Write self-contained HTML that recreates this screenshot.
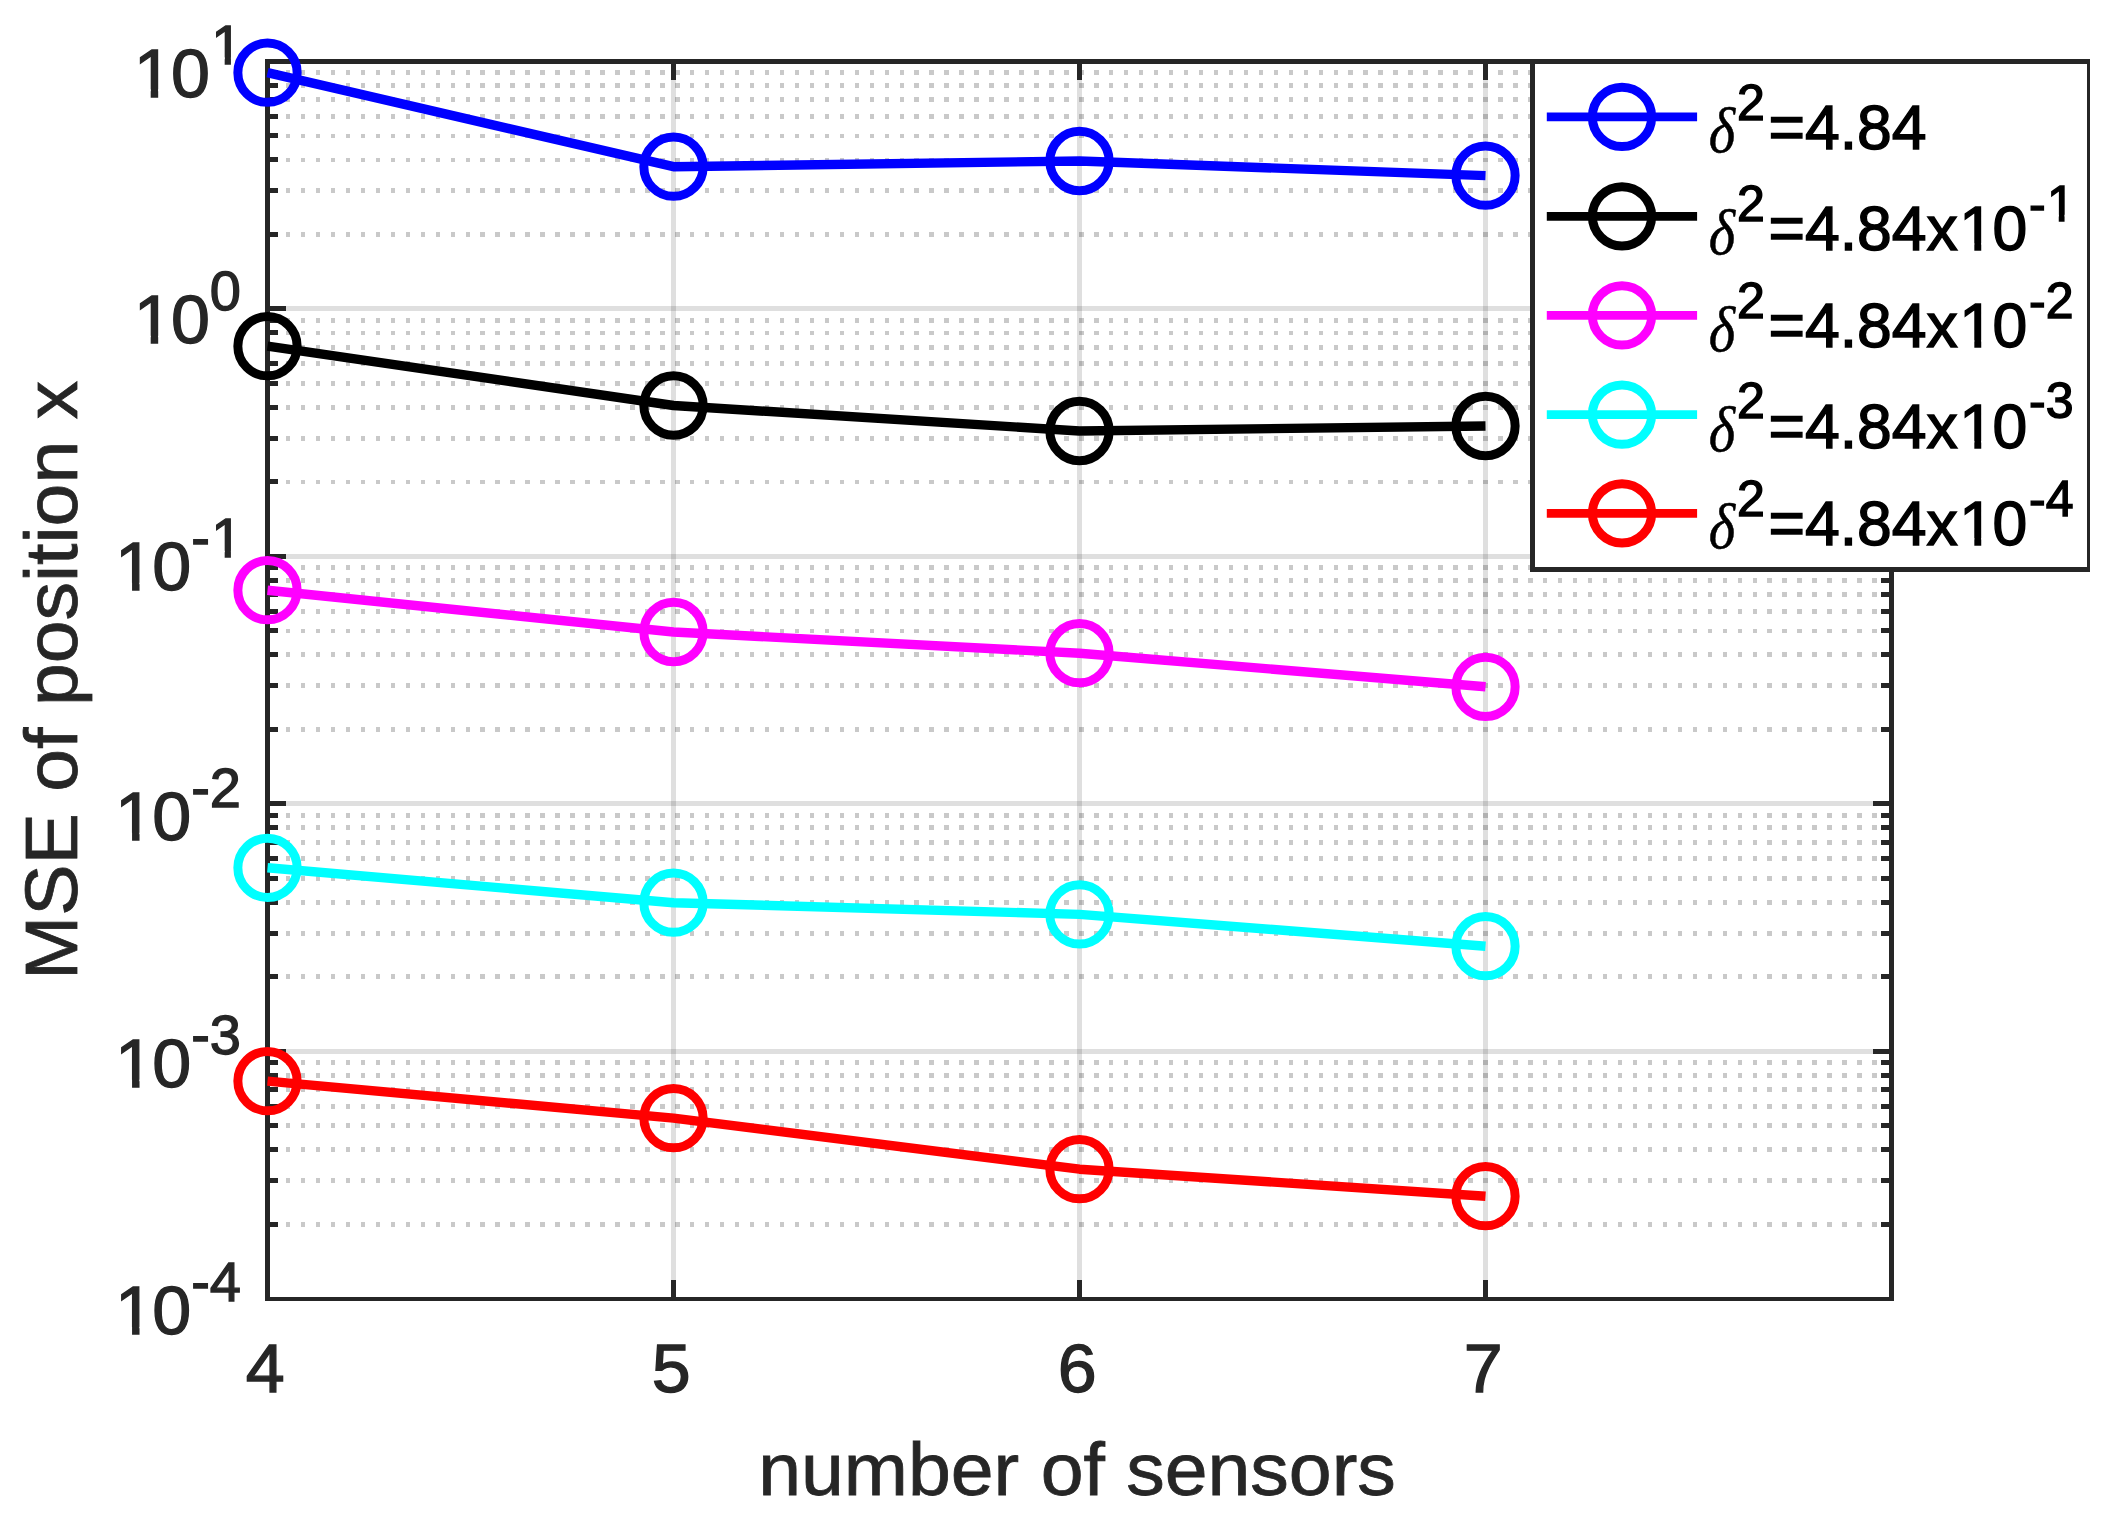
<!DOCTYPE html>
<html lang="en"><head><meta charset="utf-8"><title>MSE of position x vs number of sensors</title>
<style>html,body{margin:0;padding:0;background:#fff;}body{width:2112px;height:1515px;overflow:hidden;}svg{display:block;}text{font-family:"Liberation Sans",sans-serif;}.tk{font-size:70px;fill:#262626;stroke:#262626;stroke-width:1.3px;}.sp{font-size:56px;}.lb{font-size:77px;fill:#262626;stroke:#262626;stroke-width:0.8px;}.lg{font-size:62.5px;fill:#000;stroke:#000;stroke-width:1.4px;}.ls{font-size:50px;fill:#000;stroke:#000;stroke-width:1.4px;}.dl{font-family:"Liberation Serif","DejaVu Serif",serif;font-style:italic;font-size:63px;fill:#000;stroke:#000;stroke-width:0.5px;}</style></head><body>
<svg width="2112" height="1515" viewBox="0 0 2112 1515">
<rect x="0" y="0" width="2112" height="1515" fill="#ffffff"/>
<g shape-rendering="crispEdges" fill="none" stroke="#262626">
<line x1="673.50" y1="61.50" x2="673.50" y2="1298.80" stroke-opacity="0.15" stroke-width="5.0"/>
<line x1="1079.50" y1="61.50" x2="1079.50" y2="1298.80" stroke-opacity="0.15" stroke-width="5.0"/>
<line x1="1485.50" y1="61.50" x2="1485.50" y2="1298.80" stroke-opacity="0.15" stroke-width="5.0"/>
<line x1="267.50" y1="308.96" x2="1891.50" y2="308.96" stroke-opacity="0.15" stroke-width="5.0"/>
<line x1="267.50" y1="556.42" x2="1891.50" y2="556.42" stroke-opacity="0.15" stroke-width="5.0"/>
<line x1="267.50" y1="803.88" x2="1891.50" y2="803.88" stroke-opacity="0.15" stroke-width="5.0"/>
<line x1="267.50" y1="1051.34" x2="1891.50" y2="1051.34" stroke-opacity="0.15" stroke-width="5.0"/>
<line x1="270.985" y1="234.47" x2="1891.50" y2="234.47" stroke-opacity="0.25" stroke-width="4.8" stroke-dasharray="4.47 10.495"/>
<line x1="270.985" y1="190.89" x2="1891.50" y2="190.89" stroke-opacity="0.25" stroke-width="4.8" stroke-dasharray="4.47 10.495"/>
<line x1="270.985" y1="159.97" x2="1891.50" y2="159.97" stroke-opacity="0.25" stroke-width="4.8" stroke-dasharray="4.47 10.495"/>
<line x1="270.985" y1="135.99" x2="1891.50" y2="135.99" stroke-opacity="0.25" stroke-width="4.8" stroke-dasharray="4.47 10.495"/>
<line x1="270.985" y1="116.40" x2="1891.50" y2="116.40" stroke-opacity="0.25" stroke-width="4.8" stroke-dasharray="4.47 10.495"/>
<line x1="270.985" y1="99.83" x2="1891.50" y2="99.83" stroke-opacity="0.25" stroke-width="4.8" stroke-dasharray="4.47 10.495"/>
<line x1="270.985" y1="85.48" x2="1891.50" y2="85.48" stroke-opacity="0.25" stroke-width="4.8" stroke-dasharray="4.47 10.495"/>
<line x1="270.985" y1="72.82" x2="1891.50" y2="72.82" stroke-opacity="0.25" stroke-width="4.8" stroke-dasharray="4.47 10.495"/>
<line x1="270.985" y1="481.93" x2="1891.50" y2="481.93" stroke-opacity="0.25" stroke-width="4.8" stroke-dasharray="4.47 10.495"/>
<line x1="270.985" y1="438.35" x2="1891.50" y2="438.35" stroke-opacity="0.25" stroke-width="4.8" stroke-dasharray="4.47 10.495"/>
<line x1="270.985" y1="407.43" x2="1891.50" y2="407.43" stroke-opacity="0.25" stroke-width="4.8" stroke-dasharray="4.47 10.495"/>
<line x1="270.985" y1="383.45" x2="1891.50" y2="383.45" stroke-opacity="0.25" stroke-width="4.8" stroke-dasharray="4.47 10.495"/>
<line x1="270.985" y1="363.86" x2="1891.50" y2="363.86" stroke-opacity="0.25" stroke-width="4.8" stroke-dasharray="4.47 10.495"/>
<line x1="270.985" y1="347.29" x2="1891.50" y2="347.29" stroke-opacity="0.25" stroke-width="4.8" stroke-dasharray="4.47 10.495"/>
<line x1="270.985" y1="332.94" x2="1891.50" y2="332.94" stroke-opacity="0.25" stroke-width="4.8" stroke-dasharray="4.47 10.495"/>
<line x1="270.985" y1="320.28" x2="1891.50" y2="320.28" stroke-opacity="0.25" stroke-width="4.8" stroke-dasharray="4.47 10.495"/>
<line x1="270.985" y1="729.39" x2="1891.50" y2="729.39" stroke-opacity="0.25" stroke-width="4.8" stroke-dasharray="4.47 10.495"/>
<line x1="270.985" y1="685.81" x2="1891.50" y2="685.81" stroke-opacity="0.25" stroke-width="4.8" stroke-dasharray="4.47 10.495"/>
<line x1="270.985" y1="654.89" x2="1891.50" y2="654.89" stroke-opacity="0.25" stroke-width="4.8" stroke-dasharray="4.47 10.495"/>
<line x1="270.985" y1="630.91" x2="1891.50" y2="630.91" stroke-opacity="0.25" stroke-width="4.8" stroke-dasharray="4.47 10.495"/>
<line x1="270.985" y1="611.32" x2="1891.50" y2="611.32" stroke-opacity="0.25" stroke-width="4.8" stroke-dasharray="4.47 10.495"/>
<line x1="270.985" y1="594.75" x2="1891.50" y2="594.75" stroke-opacity="0.25" stroke-width="4.8" stroke-dasharray="4.47 10.495"/>
<line x1="270.985" y1="580.40" x2="1891.50" y2="580.40" stroke-opacity="0.25" stroke-width="4.8" stroke-dasharray="4.47 10.495"/>
<line x1="270.985" y1="567.74" x2="1891.50" y2="567.74" stroke-opacity="0.25" stroke-width="4.8" stroke-dasharray="4.47 10.495"/>
<line x1="270.985" y1="976.85" x2="1891.50" y2="976.85" stroke-opacity="0.25" stroke-width="4.8" stroke-dasharray="4.47 10.495"/>
<line x1="270.985" y1="933.27" x2="1891.50" y2="933.27" stroke-opacity="0.25" stroke-width="4.8" stroke-dasharray="4.47 10.495"/>
<line x1="270.985" y1="902.35" x2="1891.50" y2="902.35" stroke-opacity="0.25" stroke-width="4.8" stroke-dasharray="4.47 10.495"/>
<line x1="270.985" y1="878.37" x2="1891.50" y2="878.37" stroke-opacity="0.25" stroke-width="4.8" stroke-dasharray="4.47 10.495"/>
<line x1="270.985" y1="858.78" x2="1891.50" y2="858.78" stroke-opacity="0.25" stroke-width="4.8" stroke-dasharray="4.47 10.495"/>
<line x1="270.985" y1="842.21" x2="1891.50" y2="842.21" stroke-opacity="0.25" stroke-width="4.8" stroke-dasharray="4.47 10.495"/>
<line x1="270.985" y1="827.86" x2="1891.50" y2="827.86" stroke-opacity="0.25" stroke-width="4.8" stroke-dasharray="4.47 10.495"/>
<line x1="270.985" y1="815.20" x2="1891.50" y2="815.20" stroke-opacity="0.25" stroke-width="4.8" stroke-dasharray="4.47 10.495"/>
<line x1="270.985" y1="1224.31" x2="1891.50" y2="1224.31" stroke-opacity="0.25" stroke-width="4.8" stroke-dasharray="4.47 10.495"/>
<line x1="270.985" y1="1180.73" x2="1891.50" y2="1180.73" stroke-opacity="0.25" stroke-width="4.8" stroke-dasharray="4.47 10.495"/>
<line x1="270.985" y1="1149.81" x2="1891.50" y2="1149.81" stroke-opacity="0.25" stroke-width="4.8" stroke-dasharray="4.47 10.495"/>
<line x1="270.985" y1="1125.83" x2="1891.50" y2="1125.83" stroke-opacity="0.25" stroke-width="4.8" stroke-dasharray="4.47 10.495"/>
<line x1="270.985" y1="1106.24" x2="1891.50" y2="1106.24" stroke-opacity="0.25" stroke-width="4.8" stroke-dasharray="4.47 10.495"/>
<line x1="270.985" y1="1089.67" x2="1891.50" y2="1089.67" stroke-opacity="0.25" stroke-width="4.8" stroke-dasharray="4.47 10.495"/>
<line x1="270.985" y1="1075.32" x2="1891.50" y2="1075.32" stroke-opacity="0.25" stroke-width="4.8" stroke-dasharray="4.47 10.495"/>
<line x1="270.985" y1="1062.66" x2="1891.50" y2="1062.66" stroke-opacity="0.25" stroke-width="4.8" stroke-dasharray="4.47 10.495"/>
</g>
<g shape-rendering="crispEdges" stroke="#262626" stroke-width="5.0" fill="none">
<g stroke="none" fill="#262626"><rect x="265" y="59" width="1629" height="5"/><rect x="265" y="1297" width="1629" height="4"/><rect x="265" y="59" width="5" height="1242"/><rect x="1889" y="59" width="5" height="1242"/></g>
<line x1="673.50" y1="61.50" x2="673.50" y2="80.00"/>
<line x1="673.50" y1="1298.80" x2="673.50" y2="1280.30"/>
<line x1="1079.50" y1="61.50" x2="1079.50" y2="80.00"/>
<line x1="1079.50" y1="1298.80" x2="1079.50" y2="1280.30"/>
<line x1="1485.50" y1="61.50" x2="1485.50" y2="80.00"/>
<line x1="1485.50" y1="1298.80" x2="1485.50" y2="1280.30"/>
<line x1="267.50" y1="308.96" x2="286.00" y2="308.96"/>
<line x1="1891.50" y1="308.96" x2="1873.00" y2="308.96"/>
<line x1="267.50" y1="556.42" x2="286.00" y2="556.42"/>
<line x1="1891.50" y1="556.42" x2="1873.00" y2="556.42"/>
<line x1="267.50" y1="803.88" x2="286.00" y2="803.88"/>
<line x1="1891.50" y1="803.88" x2="1873.00" y2="803.88"/>
<line x1="267.50" y1="1051.34" x2="286.00" y2="1051.34"/>
<line x1="1891.50" y1="1051.34" x2="1873.00" y2="1051.34"/>
<line x1="267.50" y1="234.47" x2="278.00" y2="234.47"/>
<line x1="1891.50" y1="234.47" x2="1881.00" y2="234.47"/>
<line x1="267.50" y1="190.89" x2="278.00" y2="190.89"/>
<line x1="1891.50" y1="190.89" x2="1881.00" y2="190.89"/>
<line x1="267.50" y1="159.97" x2="278.00" y2="159.97"/>
<line x1="1891.50" y1="159.97" x2="1881.00" y2="159.97"/>
<line x1="267.50" y1="135.99" x2="278.00" y2="135.99"/>
<line x1="1891.50" y1="135.99" x2="1881.00" y2="135.99"/>
<line x1="267.50" y1="116.40" x2="278.00" y2="116.40"/>
<line x1="1891.50" y1="116.40" x2="1881.00" y2="116.40"/>
<line x1="267.50" y1="99.83" x2="278.00" y2="99.83"/>
<line x1="1891.50" y1="99.83" x2="1881.00" y2="99.83"/>
<line x1="267.50" y1="85.48" x2="278.00" y2="85.48"/>
<line x1="1891.50" y1="85.48" x2="1881.00" y2="85.48"/>
<line x1="267.50" y1="72.82" x2="278.00" y2="72.82"/>
<line x1="1891.50" y1="72.82" x2="1881.00" y2="72.82"/>
<line x1="267.50" y1="481.93" x2="278.00" y2="481.93"/>
<line x1="1891.50" y1="481.93" x2="1881.00" y2="481.93"/>
<line x1="267.50" y1="438.35" x2="278.00" y2="438.35"/>
<line x1="1891.50" y1="438.35" x2="1881.00" y2="438.35"/>
<line x1="267.50" y1="407.43" x2="278.00" y2="407.43"/>
<line x1="1891.50" y1="407.43" x2="1881.00" y2="407.43"/>
<line x1="267.50" y1="383.45" x2="278.00" y2="383.45"/>
<line x1="1891.50" y1="383.45" x2="1881.00" y2="383.45"/>
<line x1="267.50" y1="363.86" x2="278.00" y2="363.86"/>
<line x1="1891.50" y1="363.86" x2="1881.00" y2="363.86"/>
<line x1="267.50" y1="347.29" x2="278.00" y2="347.29"/>
<line x1="1891.50" y1="347.29" x2="1881.00" y2="347.29"/>
<line x1="267.50" y1="332.94" x2="278.00" y2="332.94"/>
<line x1="1891.50" y1="332.94" x2="1881.00" y2="332.94"/>
<line x1="267.50" y1="320.28" x2="278.00" y2="320.28"/>
<line x1="1891.50" y1="320.28" x2="1881.00" y2="320.28"/>
<line x1="267.50" y1="729.39" x2="278.00" y2="729.39"/>
<line x1="1891.50" y1="729.39" x2="1881.00" y2="729.39"/>
<line x1="267.50" y1="685.81" x2="278.00" y2="685.81"/>
<line x1="1891.50" y1="685.81" x2="1881.00" y2="685.81"/>
<line x1="267.50" y1="654.89" x2="278.00" y2="654.89"/>
<line x1="1891.50" y1="654.89" x2="1881.00" y2="654.89"/>
<line x1="267.50" y1="630.91" x2="278.00" y2="630.91"/>
<line x1="1891.50" y1="630.91" x2="1881.00" y2="630.91"/>
<line x1="267.50" y1="611.32" x2="278.00" y2="611.32"/>
<line x1="1891.50" y1="611.32" x2="1881.00" y2="611.32"/>
<line x1="267.50" y1="594.75" x2="278.00" y2="594.75"/>
<line x1="1891.50" y1="594.75" x2="1881.00" y2="594.75"/>
<line x1="267.50" y1="580.40" x2="278.00" y2="580.40"/>
<line x1="1891.50" y1="580.40" x2="1881.00" y2="580.40"/>
<line x1="267.50" y1="567.74" x2="278.00" y2="567.74"/>
<line x1="1891.50" y1="567.74" x2="1881.00" y2="567.74"/>
<line x1="267.50" y1="976.85" x2="278.00" y2="976.85"/>
<line x1="1891.50" y1="976.85" x2="1881.00" y2="976.85"/>
<line x1="267.50" y1="933.27" x2="278.00" y2="933.27"/>
<line x1="1891.50" y1="933.27" x2="1881.00" y2="933.27"/>
<line x1="267.50" y1="902.35" x2="278.00" y2="902.35"/>
<line x1="1891.50" y1="902.35" x2="1881.00" y2="902.35"/>
<line x1="267.50" y1="878.37" x2="278.00" y2="878.37"/>
<line x1="1891.50" y1="878.37" x2="1881.00" y2="878.37"/>
<line x1="267.50" y1="858.78" x2="278.00" y2="858.78"/>
<line x1="1891.50" y1="858.78" x2="1881.00" y2="858.78"/>
<line x1="267.50" y1="842.21" x2="278.00" y2="842.21"/>
<line x1="1891.50" y1="842.21" x2="1881.00" y2="842.21"/>
<line x1="267.50" y1="827.86" x2="278.00" y2="827.86"/>
<line x1="1891.50" y1="827.86" x2="1881.00" y2="827.86"/>
<line x1="267.50" y1="815.20" x2="278.00" y2="815.20"/>
<line x1="1891.50" y1="815.20" x2="1881.00" y2="815.20"/>
<line x1="267.50" y1="1224.31" x2="278.00" y2="1224.31"/>
<line x1="1891.50" y1="1224.31" x2="1881.00" y2="1224.31"/>
<line x1="267.50" y1="1180.73" x2="278.00" y2="1180.73"/>
<line x1="1891.50" y1="1180.73" x2="1881.00" y2="1180.73"/>
<line x1="267.50" y1="1149.81" x2="278.00" y2="1149.81"/>
<line x1="1891.50" y1="1149.81" x2="1881.00" y2="1149.81"/>
<line x1="267.50" y1="1125.83" x2="278.00" y2="1125.83"/>
<line x1="1891.50" y1="1125.83" x2="1881.00" y2="1125.83"/>
<line x1="267.50" y1="1106.24" x2="278.00" y2="1106.24"/>
<line x1="1891.50" y1="1106.24" x2="1881.00" y2="1106.24"/>
<line x1="267.50" y1="1089.67" x2="278.00" y2="1089.67"/>
<line x1="1891.50" y1="1089.67" x2="1881.00" y2="1089.67"/>
<line x1="267.50" y1="1075.32" x2="278.00" y2="1075.32"/>
<line x1="1891.50" y1="1075.32" x2="1881.00" y2="1075.32"/>
<line x1="267.50" y1="1062.66" x2="278.00" y2="1062.66"/>
<line x1="1891.50" y1="1062.66" x2="1881.00" y2="1062.66"/>
</g>
<text class="tk" transform="translate(0,96.75) scale(1,0.975)"><tspan x="133.74" y="0">1</tspan><tspan x="170.94">0</tspan><tspan class="sp" x="211.24" dy="-33.85">1</tspan></text>
<text class="tk" transform="translate(0,343.25) scale(1,0.975)"><tspan x="133.74" y="0">1</tspan><tspan x="170.94">0</tspan><tspan class="sp" x="209.86" dy="-33.85">0</tspan></text>
<text class="tk" transform="translate(0,590.20) scale(1,0.975)"><tspan x="115.09" y="0">1</tspan><tspan x="152.30">0</tspan><tspan class="sp" x="191.22" dy="-33.85">-</tspan><tspan class="sp" x="211.24">1</tspan></text>
<text class="tk" transform="translate(0,840.20) scale(1,0.975)"><tspan x="115.09" y="0">1</tspan><tspan x="152.30">0</tspan><tspan class="sp" x="191.22" dy="-33.85">-2</tspan></text>
<text class="tk" transform="translate(0,1087.10) scale(1,0.975)"><tspan x="115.09" y="0">1</tspan><tspan x="152.30">0</tspan><tspan class="sp" x="191.22" dy="-33.85">-3</tspan></text>
<text class="tk" transform="translate(0,1334.35) scale(1,0.975)"><tspan x="115.09" y="0">1</tspan><tspan x="152.30">0</tspan><tspan class="sp" x="191.22" dy="-33.85">-4</tspan></text>
<g fill="#ffffff"><rect x="137.42" y="89.27" width="13.27" height="9.13"/><rect x="158.18" y="89.27" width="12.72" height="9.13"/><rect x="213.85" y="57.32" width="10.82" height="8.08"/><rect x="230.91" y="57.32" width="10.38" height="8.08"/><rect x="137.42" y="335.77" width="13.27" height="9.13"/><rect x="158.18" y="335.77" width="12.72" height="9.13"/><rect x="118.78" y="582.72" width="13.27" height="9.13"/><rect x="139.53" y="582.72" width="12.72" height="9.13"/><rect x="213.85" y="550.77" width="10.82" height="8.08"/><rect x="230.91" y="550.77" width="10.38" height="8.08"/><rect x="118.78" y="832.72" width="13.27" height="9.13"/><rect x="139.53" y="832.72" width="12.72" height="9.13"/><rect x="118.78" y="1079.62" width="13.27" height="9.13"/><rect x="139.53" y="1079.62" width="12.72" height="9.13"/><rect x="118.78" y="1326.87" width="13.27" height="9.13"/><rect x="139.53" y="1326.87" width="12.72" height="9.13"/></g>
<g stroke="#0000ff" stroke-width="9.4" fill="none">
<polyline points="267.5,72.7 673.5,166.7 1079.5,161.0 1485.5,175.6" stroke-linejoin="round"/>
<circle cx="267.5" cy="72.7" r="29.65" stroke-width="9"/>
<circle cx="673.5" cy="166.7" r="29.65" stroke-width="9"/>
<circle cx="1079.5" cy="161.0" r="29.65" stroke-width="9"/>
<circle cx="1485.5" cy="175.6" r="29.65" stroke-width="9"/>
</g>
<g stroke="#000000" stroke-width="9.4" fill="none">
<polyline points="267.5,346.2 673.5,405.5 1079.5,431.0 1485.5,426.0" stroke-linejoin="round"/>
<circle cx="267.5" cy="346.2" r="29.65" stroke-width="9"/>
<circle cx="673.5" cy="405.5" r="29.65" stroke-width="9"/>
<circle cx="1079.5" cy="431.0" r="29.65" stroke-width="9"/>
<circle cx="1485.5" cy="426.0" r="29.65" stroke-width="9"/>
</g>
<g stroke="#ff00ff" stroke-width="9.4" fill="none">
<polyline points="267.5,590.2 673.5,632.0 1079.5,653.2 1485.5,686.8" stroke-linejoin="round"/>
<circle cx="267.5" cy="590.2" r="29.65" stroke-width="9"/>
<circle cx="673.5" cy="632.0" r="29.65" stroke-width="9"/>
<circle cx="1079.5" cy="653.2" r="29.65" stroke-width="9"/>
<circle cx="1485.5" cy="686.8" r="29.65" stroke-width="9"/>
</g>
<g stroke="#00ffff" stroke-width="9.4" fill="none">
<polyline points="267.5,867.8 673.5,902.7 1079.5,914.4 1485.5,946.2" stroke-linejoin="round"/>
<circle cx="267.5" cy="867.8" r="29.65" stroke-width="9"/>
<circle cx="673.5" cy="902.7" r="29.65" stroke-width="9"/>
<circle cx="1079.5" cy="914.4" r="29.65" stroke-width="9"/>
<circle cx="1485.5" cy="946.2" r="29.65" stroke-width="9"/>
</g>
<g stroke="#ff0000" stroke-width="9.4" fill="none">
<polyline points="267.5,1081.1 673.5,1118.1 1079.5,1169.2 1485.5,1196.2" stroke-linejoin="round"/>
<circle cx="267.5" cy="1081.1" r="29.65" stroke-width="9"/>
<circle cx="673.5" cy="1118.1" r="29.65" stroke-width="9"/>
<circle cx="1079.5" cy="1169.2" r="29.65" stroke-width="9"/>
<circle cx="1485.5" cy="1196.2" r="29.65" stroke-width="9"/>
</g>
<text class="tk" transform="translate(265.3,1392.2) scale(1,0.975)" text-anchor="middle">4</text>
<text class="tk" transform="translate(671.3,1392.2) scale(1,0.975)" text-anchor="middle">5</text>
<text class="tk" transform="translate(1077.3,1392.2) scale(1,0.975)" text-anchor="middle">6</text>
<text class="tk" transform="translate(1483.3,1392.2) scale(1,0.975)" text-anchor="middle">7</text>
<text class="lb" transform="translate(1077,1494.9) scale(1,0.968)" text-anchor="middle">number of sensors</text>
<text class="lb" transform="translate(77.1,680.4) rotate(-90) scale(1,0.968)" text-anchor="middle">MSE of position x</text>
<g shape-rendering="crispEdges">
<rect x="1530" y="59" width="560" height="513" fill="#ffffff"/>
<rect x="1530" y="59" width="560" height="5" fill="#262626"/>
<rect x="1530" y="567" width="560" height="5" fill="#262626"/>
<rect x="1530" y="59" width="5" height="513" fill="#262626"/>
<rect x="2087" y="59" width="3" height="513" fill="#262626"/>
</g>
<g stroke="#0000ff" fill="none"><line x1="1546.8" y1="116.9" x2="1697.1" y2="116.9" stroke-width="8.7"/><circle cx="1622" cy="116.9" r="29.65" stroke-width="9"/></g>
<text class="dl" transform="translate(1708.8,152.4) scale(0.90,1.0)">δ</text>
<text class="ls" x="1737" y="119.7">2</text>
<text class="lg" x="1768.4" y="149.2">=4.84</text>
<g stroke="#000000" fill="none"><line x1="1546.8" y1="216.3" x2="1697.1" y2="216.3" stroke-width="8.7"/><circle cx="1622" cy="216.3" r="29.65" stroke-width="9"/></g>
<text class="dl" transform="translate(1708.8,253.5) scale(0.90,1.0)">δ</text>
<text class="ls" x="1737" y="220.8">2</text>
<text class="lg" y="250.3"><tspan x="1768.4">=4.84x</tspan><tspan x="1959.31">1</tspan><tspan x="1992.53">0</tspan></text>
<text class="ls" y="220.8"><tspan x="2029">-</tspan><tspan x="2046.88">1</tspan></text>
<g stroke="#ff00ff" fill="none"><line x1="1546.8" y1="315.4" x2="1697.1" y2="315.4" stroke-width="8.7"/><circle cx="1622" cy="315.4" r="29.65" stroke-width="9"/></g>
<text class="dl" transform="translate(1708.8,350.5) scale(0.90,1.0)">δ</text>
<text class="ls" x="1737" y="317.8">2</text>
<text class="lg" y="347.3"><tspan x="1768.4">=4.84x</tspan><tspan x="1959.31">1</tspan><tspan x="1992.53">0</tspan></text>
<text class="ls" x="2029" y="317.8">-2</text>
<g stroke="#00ffff" fill="none"><line x1="1546.8" y1="414.6" x2="1697.1" y2="414.6" stroke-width="8.7"/><circle cx="1622" cy="414.6" r="29.65" stroke-width="9"/></g>
<text class="dl" transform="translate(1708.8,451.1) scale(0.90,1.0)">δ</text>
<text class="ls" x="1737" y="418.4">2</text>
<text class="lg" y="447.9"><tspan x="1768.4">=4.84x</tspan><tspan x="1959.31">1</tspan><tspan x="1992.53">0</tspan></text>
<text class="ls" x="2029" y="418.4">-3</text>
<g stroke="#ff0000" fill="none"><line x1="1546.8" y1="513.3" x2="1697.1" y2="513.3" stroke-width="8.7"/><circle cx="1622" cy="513.3" r="29.65" stroke-width="9"/></g>
<text class="dl" transform="translate(1708.8,548.3) scale(0.90,1.0)">δ</text>
<text class="ls" x="1737" y="515.6">2</text>
<text class="lg" y="545.1"><tspan x="1768.4">=4.84x</tspan><tspan x="1959.31">1</tspan><tspan x="1992.53">0</tspan></text>
<text class="ls" x="2029" y="515.6">-4</text>
<g fill="#ffffff"><rect x="1962.37" y="243.33" width="11.96" height="8.67"/><rect x="1981.24" y="243.33" width="11.47" height="8.67"/><rect x="2048.99" y="214.77" width="9.76" height="7.73"/><rect x="2064.56" y="214.77" width="9.38" height="7.73"/><rect x="1962.37" y="340.33" width="11.96" height="8.67"/><rect x="1981.24" y="340.33" width="11.47" height="8.67"/><rect x="1962.37" y="440.93" width="11.96" height="8.67"/><rect x="1981.24" y="440.93" width="11.47" height="8.67"/><rect x="1962.37" y="538.13" width="11.96" height="8.67"/><rect x="1981.24" y="538.13" width="11.47" height="8.67"/></g>
</svg></body></html>
